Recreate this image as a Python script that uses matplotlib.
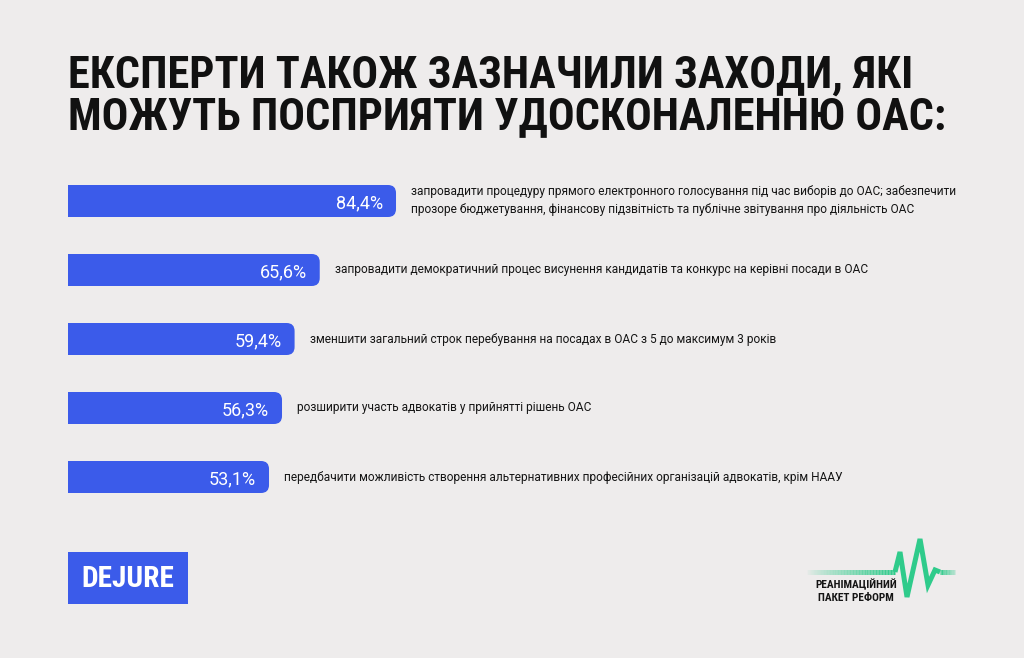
import matplotlib
matplotlib.use("Agg")
import matplotlib.pyplot as plt
from matplotlib.patches import FancyBboxPatch, Rectangle
from matplotlib.collections import LineCollection
from matplotlib import font_manager
import numpy as np

# ---------------- data ----------------
title_lines = ["ЕКСПЕРТИ ТАКОЖ ЗАЗНАЧИЛИ ЗАХОДИ, ЯКІ",
               "МОЖУТЬ ПОСПРИЯТИ УДОСКОНАЛЕННЮ ОАС:"]
values = [84.4, 65.6, 59.4, 56.3, 53.1]
value_labels = ["84,4%", "65,6%", "59,4%", "56,3%", "53,1%"]
descriptions = [
    "запровадити процедуру прямого електронного голосування під час виборів до ОАС; забезпечити\n"
    "прозоре бюджетування, фінансову підзвітність та публічне звітування про діяльність ОАС",
    "запровадити демократичний процес висунення кандидатів та конкурс на керівні посади в ОАС",
    "зменшити загальний строк перебування на посадах в ОАС з 5 до максимум 3 років",
    "розширити участь адвокатів у прийнятті рішень ОАС",
    "передбачити можливість створення альтернативних професійних організацій адвокатів, крім НААУ",
]
logo_left = "DEJURE"
logo_right = ["РЕАНІМАЦІЙНИЙ", "ПАКЕТ РЕФОРМ"]

# ---------------- style ----------------
W, H, DPI = 1024, 658, 100
BG = "#EEECEC"
BLUE = "#3B5BEA"
GREEN = "#2FCB8B"

installed = {f.name for f in font_manager.fontManager.ttflist}
narrow_candidates = ["Liberation Sans Narrow", "DejaVu Sans Condensed", "Roboto Condensed", "Roboto"]
NARROW = next(f for f in narrow_candidates if f in installed)

fig = plt.figure(figsize=(W / DPI, H / DPI), dpi=DPI, facecolor=BG)
renderer = fig.canvas.get_renderer()


def px(x, y):
    """pixel (from top-left) -> figure fraction"""
    return x / W, 1 - y / H


def fit(text_obj, target_w):
    bb = text_obj.get_window_extent(renderer=renderer)
    fs = text_obj.get_fontsize()
    text_obj.set_fontsize(fs * target_w / bb.width)


# ---------------- title ----------------
t1 = fig.text(*px(68, 88), title_lines[0], fontsize=26, fontweight="bold",
              family=NARROW, color="#111111", va="baseline", ha="left")
t2 = fig.text(*px(68, 129), title_lines[1], fontsize=26, fontweight="bold",
              family=NARROW, color="#111111", va="baseline", ha="left")
fit(t2, 880)
t1.set_fontsize(t2.get_fontsize())

# ---------------- bars ----------------
PX_PER_UNIT = 4.057        # value scale
ORIGIN_PX = 53.6           # where 0 % would sit (bars are cropped at the panel edge)
x0_px = 68                 # visible left edge of bars
row_h = 69
n = len(values)
ax_top = 201 - row_h / 2
ax_h = row_h * n
xmin = (x0_px - ORIGIN_PX) / PX_PER_UNIT
xmax = 100
ax_w = (xmax - xmin) * PX_PER_UNIT
ax = fig.add_axes([x0_px / W, 1 - (ax_top + ax_h) / H, ax_w / W, ax_h / H])
ax.set_xlim(xmin, xmax)
ax.set_ylim(n - 0.5, -0.5)
ax.axis("off")
ax.patch.set_alpha(0)

bar_h = 32 / row_h
ypos = np.arange(n)
bars = ax.barh(ypos, values, height=bar_h, color=BLUE, linewidth=0)

r_px = 8
r_x = r_px / PX_PER_UNIT
aspect = (r_px / row_h) / r_x
for b in bars:
    x, y, w, h = b.get_x(), b.get_y(), b.get_width(), b.get_height()
    b.set_visible(False)
    ax.add_patch(FancyBboxPatch((x, y), w, h,
                                boxstyle=f"round,pad=0,rounding_size={r_x}",
                                mutation_aspect=aspect, fc=BLUE, ec="none"))
    ax.add_patch(Rectangle((x, y), w / 2, h, fc=BLUE, ec="none"))

pct_texts = []
for i, (v, lab) in enumerate(zip(values, value_labels)):
    t = ax.text(v - 13 / PX_PER_UNIT, i, lab, color="white", fontsize=13,
                family="Roboto", fontweight="normal", ha="right", va="center_baseline")
    pct_texts.append(t)
fit(pct_texts[0], 47)
for t in pct_texts[1:]:
    t.set_fontsize(pct_texts[0].get_fontsize())

desc_texts = []
for i, (v, d) in enumerate(zip(values, descriptions)):
    t = ax.text(v + 15 / PX_PER_UNIT, i, d, color="#151515", fontsize=9.5,
                family="Roboto", ha="left", va="center", linespacing=1.5)
    desc_texts.append(t)
fit(desc_texts[1], 538)
for t in desc_texts:
    t.set_fontsize(desc_texts[1].get_fontsize())

# ---------------- logos ----------------
deco = fig.add_axes([0, 0, 1, 1])
deco.set_xlim(0, W)
deco.set_ylim(H, 0)
deco.axis("off")
deco.patch.set_alpha(0)

deco.add_patch(Rectangle((68, 552), 120, 52, fc=BLUE, ec="none"))
lt = deco.text(128, 579, logo_left, color="white", fontsize=22, fontweight="bold",
               family=NARROW, ha="center", va="center")
fit(lt, 93)

# pulse line
LW = 3.6
xs = np.linspace(805, 895, 60)
pts = np.column_stack([xs, np.full_like(xs, 572)])
segs = np.stack([pts[:-1], pts[1:]], axis=1)
alphas = np.linspace(0.0, 1.0, len(segs)) ** 0.8
cols = [matplotlib.colors.to_rgba(GREEN, a) for a in alphas]
deco.add_collection(LineCollection(segs, colors=cols, linewidths=LW, capstyle="butt"))
px_pts = [(895, 572), (900, 552), (907, 597), (920, 539), (928, 585), (935, 570), (940, 572)]
xx, yy = zip(*px_pts)
deco.plot(xx, yy, color=GREEN, lw=LW, solid_joinstyle="miter", solid_capstyle="butt")
xs2 = np.linspace(940, 955, 12)
pts2 = np.column_stack([xs2, np.full_like(xs2, 572)])
segs2 = np.stack([pts2[:-1], pts2[1:]], axis=1)
cols2 = [matplotlib.colors.to_rgba(GREEN, a) for a in np.linspace(1, 0.3, len(segs2))]
deco.add_collection(LineCollection(segs2, colors=cols2, linewidths=LW, capstyle="butt"))

for j, line in enumerate(logo_right):
    tt = deco.text(856, 588 + j * 13, line, color="#151515", fontsize=7.2, fontweight="bold",
                   family=NARROW, ha="center", va="baseline")
    if j == 0:
        fit(tt, 82)
        lfs = tt.get_fontsize()
    else:
        tt.set_fontsize(lfs)

fig.savefig("out.png", dpi=DPI, facecolor=BG)
